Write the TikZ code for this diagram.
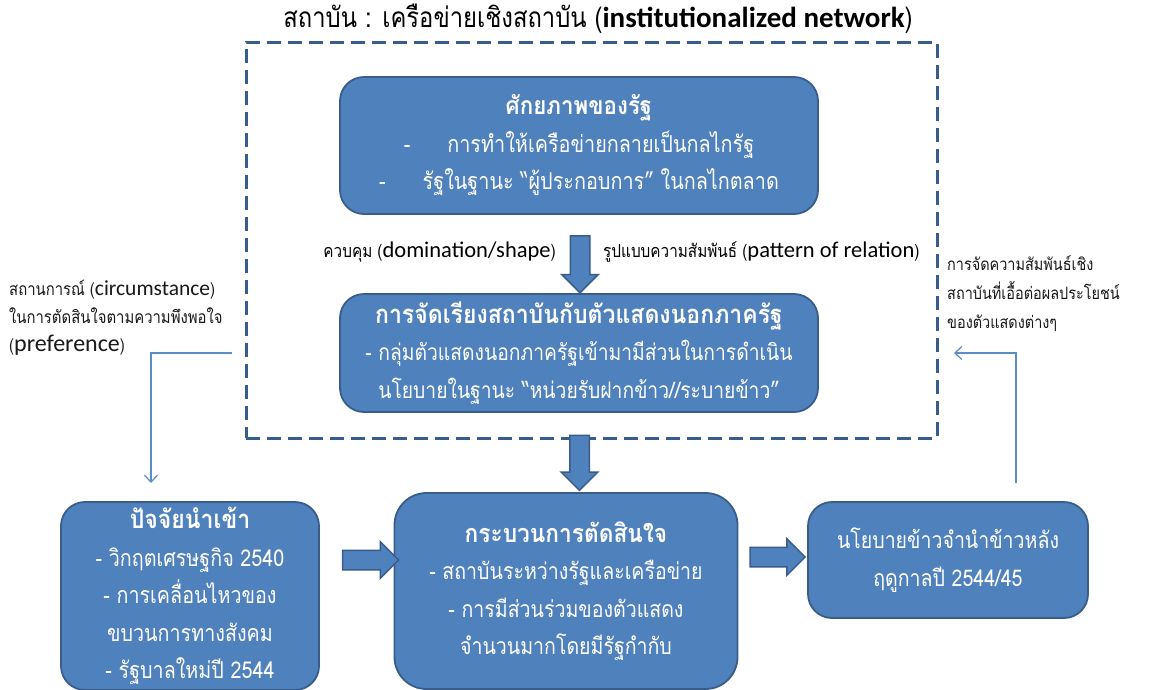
\documentclass[tikz,border=0pt]{standalone}
\usepackage{fontspec}
\setmainfont{Carlito}
\newfontfamily\thainarrow[Script=Thai, FakeStretch=0.85]{Loma}
\newfontfamily\thaihead[Script=Thai, FakeStretch=0.9]{Loma}
\usetikzlibrary{shapes.arrows,arrows.meta,calc}
\definecolor{boxfill}{HTML}{4F81BD}
\definecolor{boxline}{HTML}{385D8A}
\definecolor{thinline}{HTML}{5B8BC9}
\newcommand\boxfont[1]{\thainarrow\fontsize{#1}{37.5}\selectfont}
\newcommand\headtxt[2][24.8]{{\thaihead\bfseries\fontsize{#1}{37.5}\selectfont #2}}
\newcommand\latin[2]{{\rmfamily\fontsize{#1}{#1}\selectfont #2}}
\tikzset{
  box/.style={draw=boxline, fill=boxfill, line width=1.8pt, rounded corners=24pt,
    text=white, align=center, inner sep=0pt},
  fatarrow/.style={single arrow, draw=boxline, fill=boxfill, line width=1.5pt,
    inner sep=9pt, minimum width=35pt, single arrow head extend=8.5pt,
    single arrow tip angle=90},
  thinconn/.style={draw=thinline, line width=1.2pt,
    -{Straight Barb[length=7pt,width=13pt,line width=1.2pt]}},
  frame/.style={draw=boxline, line width=3pt, dash pattern=on 14pt off 7pt,
    inner sep=0pt},
  lbl/.style={inner sep=0pt, text=black!90, align=left},
}
\begin{document}
\begin{tikzpicture}[x=1pt,y=-1pt]
\clip (0,0) rectangle (1149,689);
\fill[white] (0,0) rectangle (1149,689);

% title and the dashed network frame
\node[inner sep=0pt, font=\thainarrow\fontsize{28}{30}\selectfont] (title) at (598,19)
  {สถาบัน : เครือข่ายเชิงสถาบัน ({\rmfamily\bfseries\fontsize{29}{30}\selectfont institutionalized network})};
\node[frame, minimum width=691pt, minimum height=396pt] (net) at (591.5,240) {};

% boxes inside the frame
\node[box, font=\boxfont{23.3}, minimum width=478pt, minimum height=137pt] (state) at (579,145.5)
  {\headtxt{ศักยภาพของรัฐ}\\
   -\hspace{37pt}การทำให้เครือข่ายกลายเป็นกลไกรัฐ\\
   -\hspace{37pt}รัฐในฐานะ “ผู้ประกอบการ” ในกลไกตลาด};
\node[box, font=\boxfont{22.7}, minimum width=478pt, minimum height=118pt] (arr) at (579,353)
  {\headtxt[25.6]{การจัดเรียงสถาบันกับตัวแสดงนอกภาครัฐ}\\
   - กลุ่มตัวแสดงนอกภาครัฐเข้ามามีส่วนในการดำเนิน\\
   นโยบายในฐานะ “หน่วยรับฝากข้าว//ระบายข้าว”};

% bottom row
\node[box, font=\boxfont{23.2}, minimum width=258pt, minimum height=188pt] (input) at (190,596)
  {\headtxt[25.6]{ปัจจัยนำเข้า}\\
   - วิกฤตเศรษฐกิจ 2540\\
   - การเคลื่อนไหวของ\\
   ขบวนการทางสังคม\\
   - รัฐบาลใหม่ปี 2544};
\node[box, font=\boxfont{23}, rounded corners=32pt, minimum width=343pt, minimum height=196pt] (proc) at (566,591)
  {\headtxt[25.2]{กระบวนการตัดสินใจ}\\
   - สถาบันระหว่างรัฐและเครือข่าย\\
   - การมีส่วนร่วมของตัวแสดง\\
   จำนวนมากโดยมีรัฐกำกับ};
\node[box, font=\boxfont{23}, minimum width=280pt, minimum height=116pt] (policy) at (948,560)
  {นโยบายข้าวจำนำข้าวหลัง\\ ฤดูกาลปี 2544/45};

% block arrows
\node[fatarrow, shape border rotate=270, minimum height=57pt] (a1)
  at ($(state.south)+(1,44.5)$) {};
\node[fatarrow, shape border rotate=270, minimum height=55pt] (a2)
  at ($(net.south)+(-12,18.5)$) {};
\node[fatarrow, minimum height=56pt] (a3)
  at ($(input.east)!0.5!(proc.west)+(9,-33.5)$) {};
\node[fatarrow, minimum height=55pt] (a4)
  at ($(proc.east)!0.5!(policy.west)+(0,-18.5)$) {};

% labels beside the first arrow
\node[anchor=base east, inner sep=0pt, font=\thainarrow\fontsize{18}{20}\selectfont] (dom)
  at ($(a1.center)+(-24,-1.5)$)
  {ควบคุม (\latin{22.5}{domination/shape})};
\node[anchor=base west, inner sep=0pt, font=\thainarrow\fontsize{18}{20}\selectfont] (pat)
  at ($(a1.center)+(23,-1.5)$)
  {รูปแบบความสัมพันธ์ (\latin{22.5}{pattern of relation})};

% side notes
\node[lbl, anchor=north west, font=\thainarrow\fontsize{17.5}{28}\selectfont] (circ) at (9,280)
  {สถานการณ์ (\latin{21.5}{circumstance})\\
   ในการตัดสินใจตามความพึงพอใจ\\
   (\latin{24}{preference})};
\node[lbl, anchor=north west, font=\thainarrow\fontsize{17}{29}\selectfont] (inst) at (947,255)
  {การจัดความสัมพันธ์เชิง\\
   สถาบันที่เอื้อต่อผลประโยชน์\\
   ของตัวแสดงต่างๆ};

% thin feedback connectors
\coordinate (c1) at (232,353);
\coordinate (c2) at (151,483);
\draw[thinconn] (c1) -| (c2);
\coordinate (c3) at (1016,483);
\coordinate (c4) at (954,353);
\draw[thinconn] (c3) |- (c4);
\end{tikzpicture}
\end{document}
